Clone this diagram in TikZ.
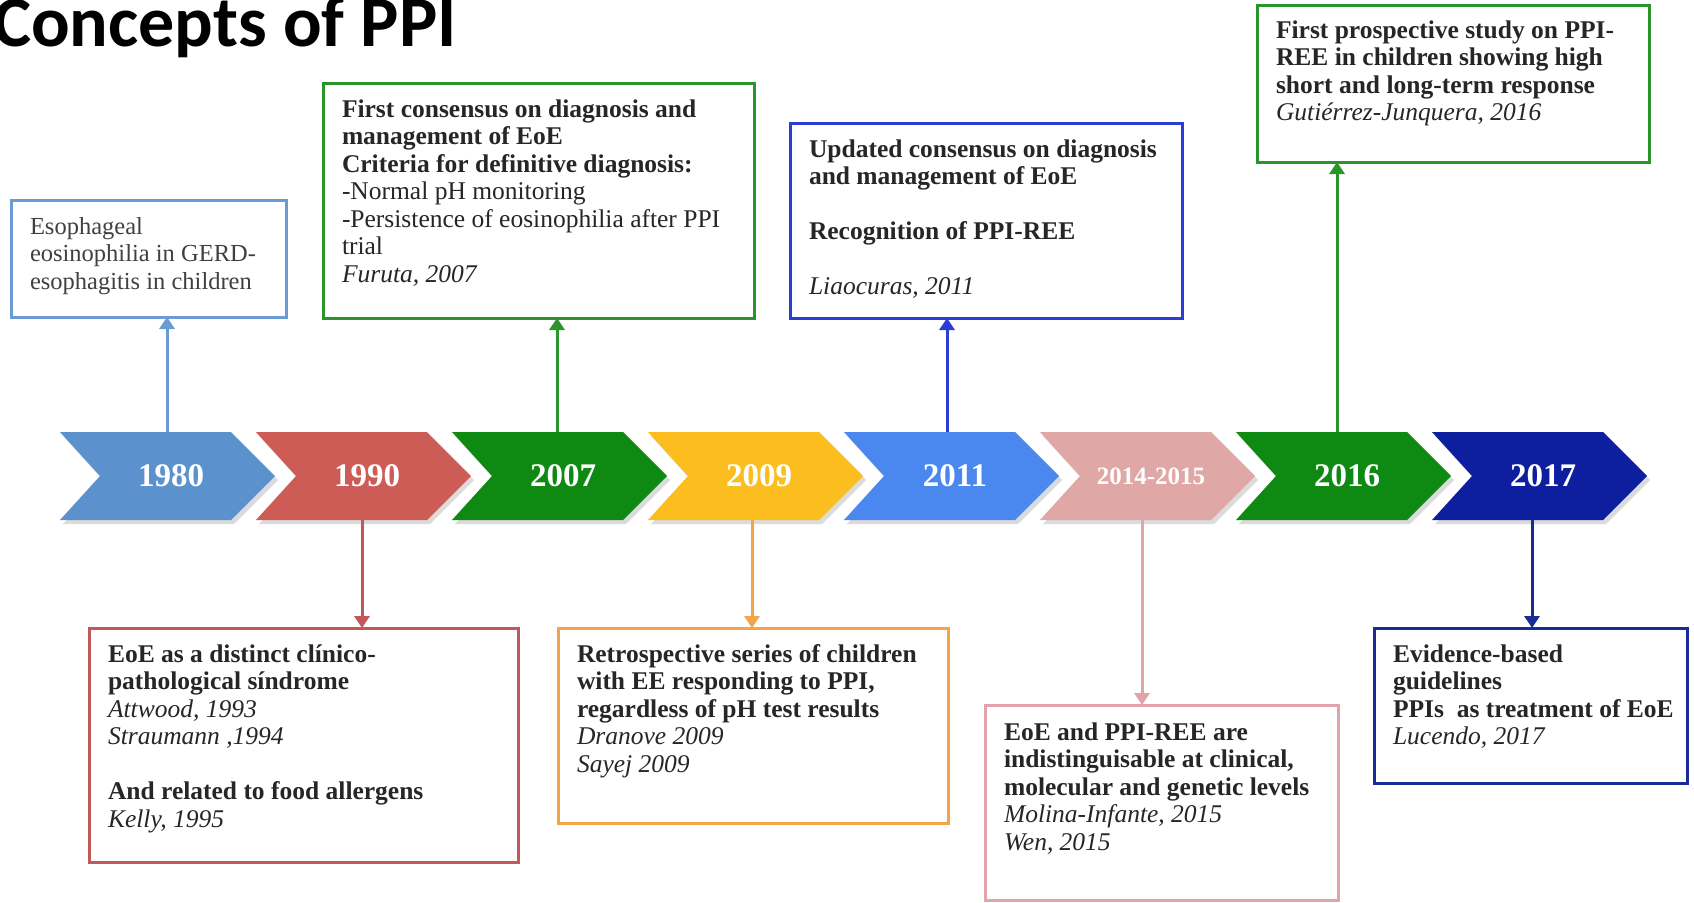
\documentclass[tikz,border=0pt]{standalone}
\usepackage{fontspec}
\setmainfont{Liberation Serif}
\newfontfamily\titlefont{Carlito}
\usetikzlibrary{arrows.meta}

% chevron fills
\definecolor{cvA}{HTML}{5B92CD}
\definecolor{cvB}{HTML}{CD5C57}
\definecolor{cvC}{HTML}{0E8A12}
\definecolor{cvD}{HTML}{FCBD1F}
\definecolor{cvE}{HTML}{4A88F0}
\definecolor{cvF}{HTML}{E0A7A7}
\definecolor{cvG}{HTML}{0E8A12}
\definecolor{cvH}{HTML}{0D1E9E}
% box outlines and links
\definecolor{bxA}{HTML}{6A9BD3}
\definecolor{bxB}{HTML}{C2585A}
\definecolor{bxC}{HTML}{2B942B}
\definecolor{bxD}{HTML}{F2A548}
\definecolor{bxE}{HTML}{2A3DD6}
\definecolor{bxF}{HTML}{E2A3AA}
\definecolor{bxG}{HTML}{2B942B}
\definecolor{bxH}{HTML}{1A2A96}

\tikzset{
  stage/.style={inner sep=0pt, outer sep=0pt, minimum width=150pt, minimum height=88pt},
  yearlabel/.style={inner sep=0pt, text=white},
  evbox/.style={draw=#1, line width=3pt, fill=white, inner sep=0pt, outer sep=0pt, anchor=north west},
  evtext/.style={anchor=north west, inner sep=0pt, outer sep=0pt, xshift=19pt, align=left,
    text=black!85, font=\fontsize{25.5}{27.5}\selectfont},
  link/.style={draw=#1, line width=3pt, -{Triangle[width=15pt,length=12pt]}},
  heading/.style={anchor=base east, inner sep=0pt, font=\titlefont\bfseries\fontsize{72}{72}\selectfont}
}

\begin{document}
\begin{tikzpicture}[x=1pt,y=-1pt]
\useasboundingbox (0,0) rectangle (1694,902);
\clip (0,0) rectangle (1694,902);
\fill[white] (0,0) rectangle (1694,902);

\node[heading] (title) at (457,46) {Concepts of PPI};

% timeline chevrons
\foreach \i/\col/\yr/\sz in {0/cvA/1980/33,1/cvB/1990/33,2/cvC/2007/33,3/cvD/2009/33,
                             4/cvE/2011/33,5/cvF/2014-2015/25,6/cvG/2016/33,7/cvH/2017/33}{
  \pgfmathsetmacro{\L}{60+196*\i}
  \pgfmathsetmacro{\M}{167+195*\i}
  \fill[black, opacity=0.14] (\L+3,436) -- ++(171,0) -- ++(44,44) -- ++(-44,44)
        -- ++(-171,0) -- ++(40,-44) -- cycle;
  \fill[\col] (\L,432) -- ++(171,0) -- ++(44,44) -- ++(-44,44)
        -- ++(-171,0) -- ++(40,-44) -- cycle;
  \node[stage] (c\i) at (\M,476) {};
  \node[yearlabel, font=\bfseries\fontsize{\sz}{\sz}\selectfont] (l\i) at (\L+111,476) {\yr};
}

% event boxes above the timeline
\node[evbox=bxA, minimum width=275pt, minimum height=117pt] (b1980) at (11,200) {};
\node[evtext, text=black!75, font=\fontsize{24.5}{27.5}\selectfont] (t1980) at (b1980.north west)
  {\rule{0pt}{34pt}Esophageal\\eosinophilia in GERD-\\esophagitis in children};

\node[evbox=bxC, minimum width=431pt, minimum height=235pt] (b2007) at (323,83) {};
\node[evtext] (t2007) at (b2007.north west)
  {\rule{0pt}{34pt}\textbf{First consensus on diagnosis and}\\
   \textbf{management of EoE}\\
   \textbf{Criteria for definitive diagnosis:}\\
   -Normal pH monitoring\\
   -Persistence of eosinophilia after PPI\\
   trial\\
   \textit{Furuta, 2007}};

\node[evbox=bxE, minimum width=392pt, minimum height=195pt] (b2011) at (790,123) {};
\node[evtext] (t2011) at (b2011.north west)
  {\rule{0pt}{34pt}\textbf{Updated consensus on diagnosis}\\
   \textbf{and management of EoE}\\[27.5pt]
   \textbf{Recognition of PPI-REE}\\[27.5pt]
   \textit{Liaocuras, 2011}};

\node[evbox=bxG, minimum width=392pt, minimum height=157pt] (b2016) at (1257,5) {};
\node[evtext] (t2016) at (b2016.north west)
  {\rule{0pt}{33pt}\textbf{First prospective study on PPI-}\\
   \textbf{REE in children showing high}\\
   \textbf{short and long-term response}\\
   \textit{Gutiérrez-Junquera, 2016}};

% event boxes below the timeline
\node[evbox=bxB, minimum width=429pt, minimum height=234pt] (b1990) at (89,628) {};
\node[evtext] (t1990) at (b1990.north west)
  {\rule{0pt}{34pt}\textbf{EoE as a distinct clínico-}\\
   \textbf{pathological síndrome}\\
   \textit{Attwood, 1993}\\
   \textit{Straumann ,1994}\\[27.5pt]
   \textbf{And related to food allergens}\\
   \textit{Kelly, 1995}};

\node[evbox=bxD, minimum width=390pt, minimum height=195pt] (b2009) at (558,628) {};
\node[evtext] (t2009) at (b2009.north west)
  {\rule{0pt}{34pt}\textbf{Retrospective series of children}\\
   \textbf{with EE responding to PPI,}\\
   \textbf{regardless of pH test results}\\
   \textit{Dranove 2009}\\
   \textit{Sayej 2009}};

\node[evbox=bxF, minimum width=353pt, minimum height=195pt] (b2014) at (985,705) {};
\node[evtext] (t2014) at (b2014.north west)
  {\rule{0pt}{35pt}\textbf{EoE and PPI-REE are}\\
   \textbf{indistinguisable at clinical,}\\
   \textbf{molecular and genetic levels}\\
   \textit{Molina-Infante, 2015}\\
   \textit{Wen, 2015}};

\node[evbox=bxH, minimum width=313pt, minimum height=155pt] (b2017) at (1374,628) {};
\node[evtext] (t2017) at (b2017.north west)
  {\rule{0pt}{34pt}\textbf{Evidence-based}\\
   \textbf{guidelines}\\
   \textbf{PPIs\ \ as treatment of EoE}\\
   \textit{Lucendo, 2017}};

% links from the timeline to the events
\draw[link=bxA] (c0.north) -- (c0.north |- b1980.south);
\draw[link=bxC] (c2.north) -- (c2.north |- b2007.south);
\draw[link=bxE] (c4.north) -- (c4.north |- b2011.south);
\draw[link=bxG] (c6.north) -- (c6.north |- b2016.south);
\draw[link=bxB] (c1.south) -- (c1.south |- b1990.north);
\draw[link=bxD] (c3.south) -- (c3.south |- b2009.north);
\draw[link=bxF] (c5.south) -- (c5.south |- b2014.north);
\draw[link=bxH] (c7.south) -- (c7.south |- b2017.north);
\end{tikzpicture}
\end{document}
